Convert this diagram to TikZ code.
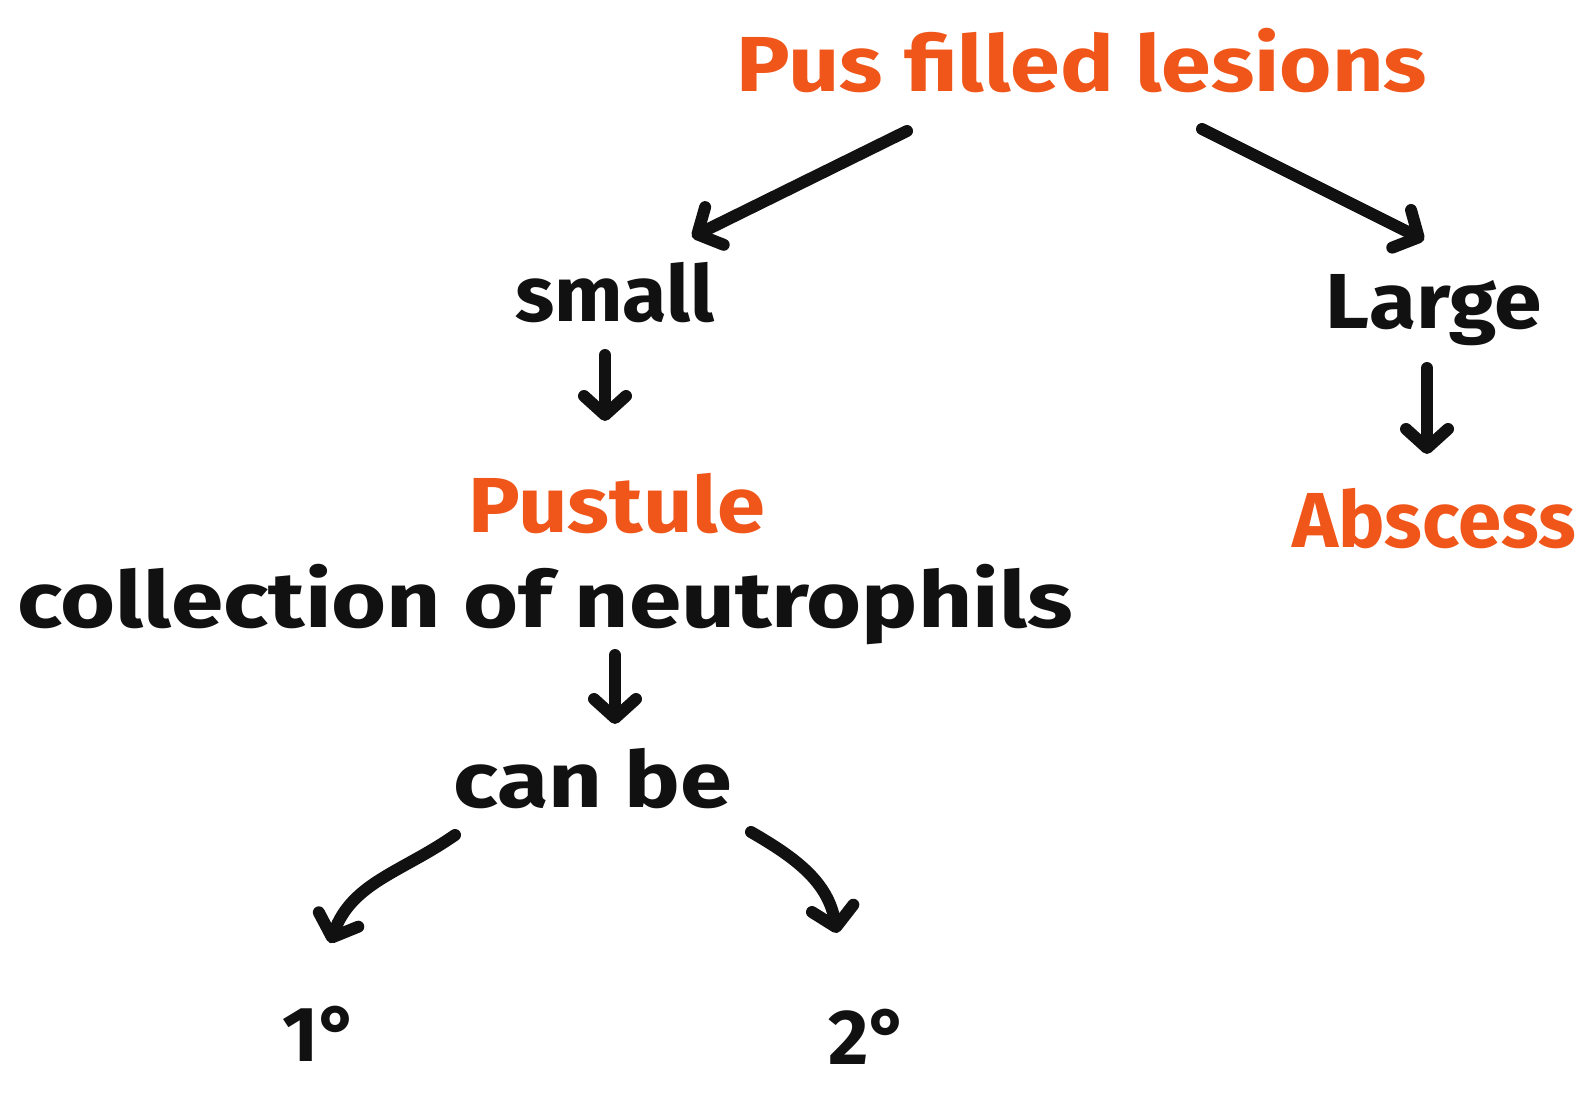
\documentclass[tikz,border=0pt]{standalone}
\usepackage{fontspec}
\setmainfont{Fira Sans}
\usetikzlibrary{arrows.meta}
\definecolor{hlorange}{HTML}{F0561A}
\definecolor{ink}{HTML}{111111}
% horizontally stretched label text
\newcommand{\wide}[2]{\scalebox{#1}[1]{#2}}
\begin{document}
\begin{tikzpicture}[x=1pt,y=-1pt,
  every node/.style={inner sep=0pt,anchor=base},
  lbl/.style={font=\fontsize{78}{90}\selectfont\bfseries,text=ink},
  key/.style={lbl,text=hlorange},
  flow/.style={draw=ink,line width=12pt,line cap=round,
    -{Straight Barb[length=19pt,width=42pt,round]}}]
\useasboundingbox[fill=white] (0,0) rectangle (1581,1095);
% labels
\node[key] (pus) at (1082,91) {\wide{1.15}{Pus filled lesions}};
\node[lbl] (small) at (615,321) {\wide{1.04}{small}};
\node[lbl] (large) at (1434,328) {\wide{1.1}{Large}};
\node[key] (pustule) at (617,532) {\wide{1.11}{Pustule}};
\node[key] (abscess) at (1434,547) {Abscess};
\node[lbl] (coll) at (545,627) {\wide{1.21}{collection of neutrophils}};
\node[lbl] (canbe) at (593,807) {\wide{1.2}{can be}};
\node[lbl] (prim) at (321,1061) {1°};
\node[lbl] (sec) at (869,1064) {2°};
% arrow end points
\coordinate (pusL) at (907,131);  \coordinate (smallT) at (692,237);
\coordinate (pusR) at (1202,129); \coordinate (largeT) at (1424,240);
\coordinate (smallB) at (605,355); \coordinate (pustT) at (605,421);
\coordinate (largeB) at (1427,368); \coordinate (absT) at (1427,454);
\coordinate (collB) at (615,655); \coordinate (canT) at (615,724);
\coordinate (canL) at (455,835); \coordinate (primT) at (330,943);
\coordinate (canR) at (751,832); \coordinate (secT) at (837,933);
% connectors
\draw[flow] (pusL) -- (smallT);
\draw[flow] (pusR) -- (largeT);
\draw[flow] (smallB) -- (pustT);
\draw[flow] (largeB) -- (absT);
\draw[flow] (collB) -- (canT);
\draw[flow] (canL) to[out=-145,in=70] (primT);
\draw[flow] (canR) to[out=-30,in=100] (secT);
\end{tikzpicture}
\end{document}
